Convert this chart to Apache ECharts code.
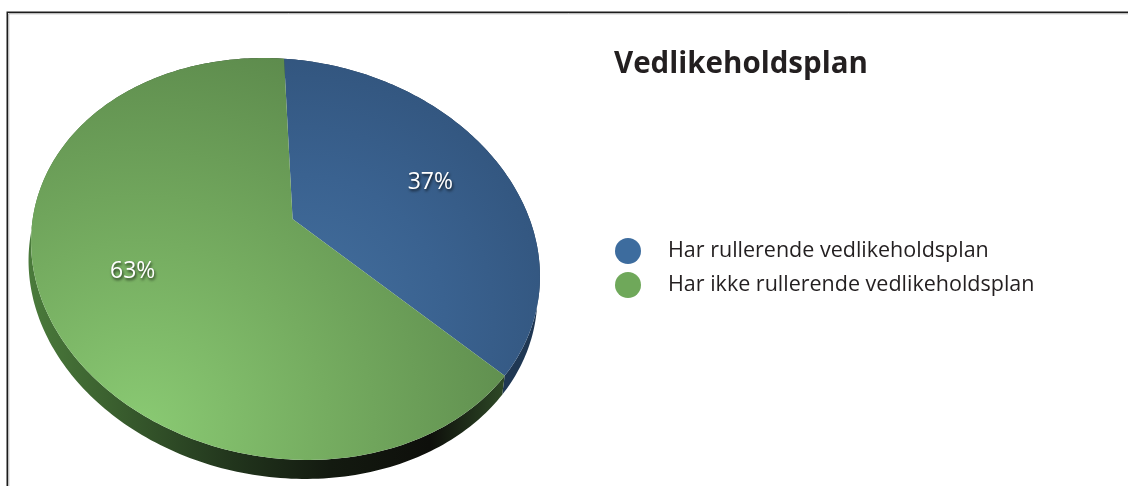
<!DOCTYPE html>
<html>
<head>
<meta charset="utf-8">
<script src="https://cdn.jsdelivr.net/npm/echarts@6/dist/echarts.min.js"></script>
<style>
  html, body { margin: 0; padding: 0; background: #ffffff; }
  #chart { width: 1128px; height: 486px; }
</style>
</head>
<body>
<div id="chart"></div>
<script>
// Answers to "rullerende vedlikeholdsplan" (share of respondents, %)
const categories = ['Har rullerende vedlikeholdsplan', 'Har ikke rullerende vedlikeholdsplan'];
const shares = [37, 63];
const swatchColors = ['#3d6c9e', '#6fa85a'];

// Tilted disc: screen ellipse, perspective lift of the centre, extrusion of the side wall
const DISC = {
  cx: 285.5, cy: 259, a: 256, b: 199, tilt: 10,
  lift: 0.2045, sideDx: -2.5, sideDy: 19, startAngle: -10,
  labelRadius: 0.66, labelDy: 5
};

const total = shares.reduce((s, v) => s + v, 0);

// Map a point of the unit disc (y down) onto the tilted, foreshortened disc
function project(x, y) {
  const v = DISC.lift;
  const g = 1 / Math.sqrt(1 - v * v);
  const w = 1 - v * y;
  const kx = x / (g * w);
  const ky = (y - v) / w;
  const ex = DISC.a * kx, ey = DISC.b * ky;
  const t = DISC.tilt * Math.PI / 180;
  return [
    DISC.cx + ex * Math.cos(t) - ey * Math.sin(t),
    DISC.cy + ex * Math.sin(t) + ey * Math.cos(t)
  ];
}

// Angle in degrees, clockwise from 12 o'clock
function discPoint(deg, r) {
  const a = deg * Math.PI / 180;
  return project(r * Math.sin(a), -r * Math.cos(a));
}

function sliceSpan(i, value) {
  const before = shares.slice(0, i).reduce((s, v) => s + v, 0);
  const a0 = DISC.startAngle + before / total * 360;
  return [a0, a0 + value / total * 360];
}

function arcPoints(a0, a1) {
  const n = Math.max(2, Math.ceil(a1 - a0));
  const pts = [];
  for (let k = 0; k <= n; k++) pts.push(discPoint(a0 + (a1 - a0) * k / n, 1));
  return pts;
}

const faceFills = [
  {
    type: 'radial', x: 300, y: 320, r: 290, global: true,
    colorStops: [
      { offset: 0, color: '#44709f' },
      { offset: 0.5, color: '#3a6290' },
      { offset: 1, color: '#31537b' }
    ]
  },
  {
    type: 'radial', x: 140, y: 430, r: 420, global: true,
    colorStops: [
      { offset: 0, color: '#8aca73' },
      { offset: 0.45, color: '#75ac60' },
      { offset: 1, color: '#5b884b' }
    ]
  }
];

const sideFills = [
  '#1f3753',
  {
    type: 'linear', x: 30, y: 0, x2: 530, y2: 0, global: true,
    colorStops: [
      { offset: 0, color: '#4a7a3b' },
      { offset: 0.15, color: '#3c6230' },
      { offset: 0.4, color: '#22361d' },
      { offset: 0.6, color: '#131a10' },
      { offset: 0.8, color: '#0e0f0b' },
      { offset: 0.93, color: '#2a4223' },
      { offset: 1, color: '#3a5a2e' }
    ]
  }
];

// Side wall of the disc, one piece per slice
const sideSeries = {
  type: 'custom',
  name: 'side',
  coordinateSystem: 'none',
  silent: true,
  z: 1,
  data: shares,
  renderItem: function (params, api) {
    const i = params.dataIndex;
    const span = sliceSpan(i, api.value(0));
    const top = arcPoints(span[0], span[1]);
    const bottom = top.map(p => [p[0] + DISC.sideDx, p[1] + DISC.sideDy]).reverse();
    return {
      type: 'polygon',
      shape: { points: top.concat(bottom) },
      style: { fill: sideFills[i], stroke: null }
    };
  }
};

// Top faces with their percentage labels
const faceSeries = categories.map((name, i) => ({
  type: 'custom',
  name: name,
  coordinateSystem: 'none',
  z: 2,
  itemStyle: { color: swatchColors[i] },
  data: [shares[i]],
  renderItem: function (params, api) {
    const value = api.value(0);
    const span = sliceSpan(i, value);
    const pts = [project(0, 0)].concat(arcPoints(span[0], span[1]));
    const mid = (span[0] + span[1]) / 2;
    const lp = discPoint(mid, DISC.labelRadius);
    return {
      type: 'group',
      children: [
        {
          type: 'polygon',
          shape: { points: pts },
          style: { fill: faceFills[i], stroke: null }
        },
        {
          type: 'text',
          x: lp[0], y: lp[1] + DISC.labelDy,
          z2: 10,
          style: {
            text: value + '%',
            fill: '#ffffff',
            fontFamily: 'Open Sans',
            fontSize: 23,
            align: 'center',
            verticalAlign: 'middle',
            textShadowColor: 'rgba(0,0,0,0.75)',
            textShadowBlur: 3,
            textShadowOffsetX: 1,
            textShadowOffsetY: 2
          }
        }
      ]
    };
  }
}));

const chart = echarts.init(document.getElementById('chart'), null, { renderer: 'canvas' });
chart.setOption({
  backgroundColor: '#ffffff',
  animation: false,
  title: {
    text: 'Vedlikeholdsplan',
    left: 614,
    top: 50,
    padding: 0,
    textStyle: {
      fontFamily: 'Open Sans',
      fontWeight: 'bold',
      fontSize: 29.5,
      color: '#231f20'
    }
  },
  legend: {
    data: categories,
    orient: 'vertical',
    left: 615,
    top: 238,
    padding: 0,
    icon: 'circle',
    itemWidth: 26,
    itemHeight: 26,
    itemGap: 8,
    selectedMode: false,
    textStyle: {
      fontFamily: 'Open Sans',
      fontSize: 21.5,
      color: '#231f20',
      padding: [0, 0, 0, 22]
    }
  },
  graphic: [
    {
      type: 'polyline',
      silent: true,
      shape: { points: [[7.25, 486], [7.25, 12.25], [1128, 12.25]] },
      style: { stroke: '#1c1c1c', lineWidth: 1.5, fill: null }
    },
    {
      type: 'polyline',
      silent: true,
      shape: { points: [[8.75, 486], [8.75, 13.75], [1128, 13.75]] },
      style: { stroke: '#a8a8a8', lineWidth: 1, fill: null }
    }
  ],
  series: [sideSeries].concat(faceSeries)
});
</script>
</body>
</html>
